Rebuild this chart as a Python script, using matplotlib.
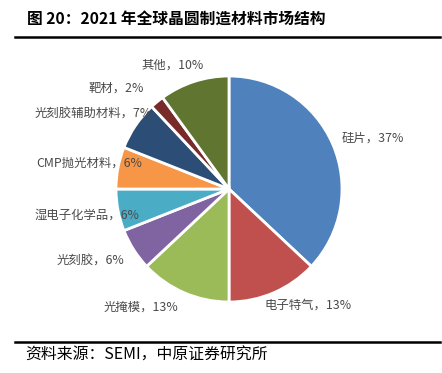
import matplotlib
matplotlib.use("Agg")
import matplotlib.pyplot as plt
from matplotlib.lines import Line2D

plt.rcParams['font.family'] = ['Noto Sans CJK SC', 'DejaVu Sans']

categories = ['硅片', '电子特气', '光掩模', '光刻胶', '湿电子化学品',
              'CMP抛光材料', '光刻胶辅助材料', '靶材', '其他']
values = [37, 13, 13, 6, 6, 6, 7, 2, 10]
colors = ['#4F81BD', '#C0504D', '#9BBB59', '#8064A2', '#4BACC6',
          '#F79646', '#2C4D75', '#772C2A', '#5F7530']
# label centres in pie-radius units (layout)
label_pos = [(1.27, 0.45), (0.70, -1.03), (-0.78, -1.05), (-1.23, -0.63),
             (-1.26, -0.23), (-1.24, 0.23), (-1.20, 0.67), (-1.00, 0.89),
             (-0.50, 1.10)]

W, H = 442, 373
fig = plt.figure(figsize=(W / 100, H / 100), dpi=100)
ax = fig.add_axes([0, 0, 1, 1])
ax.pie(values, colors=colors, startangle=90, counterclock=False,
       wedgeprops=dict(edgecolor='white', linewidth=2))
cx, cy, R = 229, 189, 113
ax.set_aspect('auto')
ax.set_xlim(-cx / R, (W - cx) / R)
ax.set_ylim(-(H - cy) / R, cy / R)
ax.axis('off')

for cat, v, (x, y) in zip(categories, values, label_pos):
    ax.text(x, y, f'{cat}，{v}%', ha='center', va='center', fontsize=8.9,
            color='#4a4a4a')

fig.text(27 / W, 1 - 19 / H, '图 20：2021 年全球晶圆制造材料市场结构', fontsize=11.3,
         fontweight='bold', ha='left', va='center', color='black')
fig.add_artist(Line2D([15 / W, 440 / W], [1 - 37 / H, 1 - 37 / H],
                      color='black', linewidth=1.8))
fig.add_artist(Line2D([15 / W, 440 / W], [1 - 342 / H, 1 - 342 / H],
                      color='black', linewidth=1.8))
fig.text(25 / W, 1 - 355 / H, '资料来源：SEMI，中原证券研究所', fontsize=11.4,
         ha='left', va='center', color='black')

fig.savefig('out.png', dpi=100)
